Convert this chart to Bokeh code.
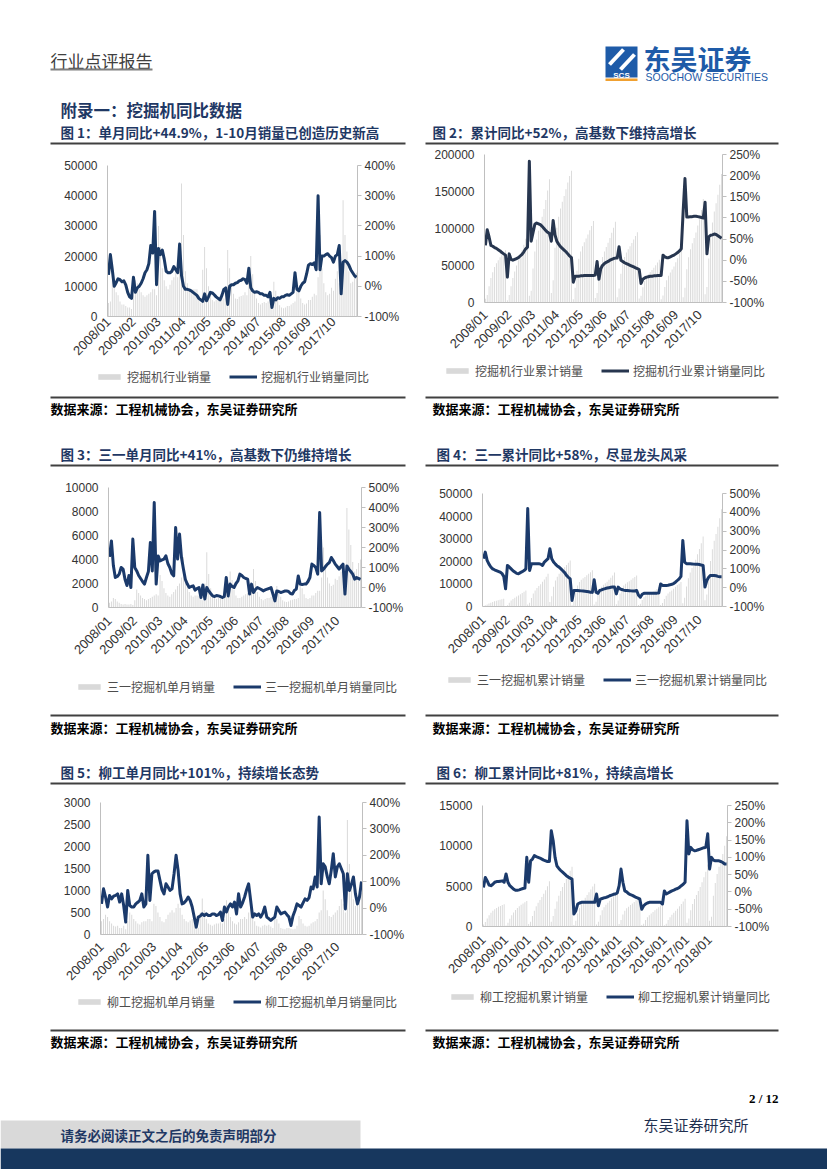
import math
from bokeh.plotting import figure
from bokeh.models import (Range1d, LinearAxis, FixedTicker, PrintfTickFormatter,
                          NumeralTickFormatter, Legend, LegendItem)
from bokeh.layouts import column, row
from bokeh.embed import file_html
from bokeh.resources import INLINE
from bokeh.core.properties import value

CJK = "Noto Sans CJK SC"
NUM = "Liberation Sans"
NAVY = "#1f3864"

# ---------------- tick labels ----------------
ticks_a = [0, 13, 26, 39, 52, 65, 78, 91, 104, 117]
labels_a = ["2008/01", "2009/02", "2010/03", "2011/04", "2012/05", "2013/06",
            "2014/07", "2015/08", "2016/09", "2017/10"]
ticks_b = [0, 12, 24, 36, 48, 60, 72, 84, 96, 108, 120]
labels_b = ["2008/01", "2009/01", "2010/01", "2011/01", "2012/01", "2013/01",
            "2014/01", "2015/01", "2016/01", "2017/01", "2018/01"]

# ---------------- data: 2008/01 .. 2018/10 ----------------
# Fig 1: industry monthly sales / YoY (%)
ind_month = [
    4500, 5000, 12000, 11000, 8000, 7000, 5000, 4000, 4000, 3500, 3000, 3000,
    2500, 7000, 12000, 11000, 9000, 8000, 7000, 6500, 7000, 7500, 8000, 9000,
    9000, 7000, 30000, 23000, 16000, 12000, 10000, 9000, 10500, 12000, 13000, 15000,
    13000, 17000, 44000, 27000, 15000, 11000, 9000, 8000, 9000, 9000, 9000, 7000,
    4500, 15500, 23000, 16000, 10000, 7000, 5500, 5000, 5500, 5500, 6000, 6500,
    6000, 7000, 22000, 16000, 10500, 7500, 6000, 5800, 6500, 6800, 7000, 8000,
    7000, 12000, 20000, 14000, 8500, 6000, 4500, 4000, 4500, 4800, 4500, 5000,
    5500, 3500, 11500, 8500, 5500, 3700, 3000, 2700, 3000, 3500, 3500, 4000,
    4500, 5000, 11500, 9000, 6000, 4500, 4000, 4300, 5500, 5500, 6500, 7500,
    7000, 13000, 27000, 16000, 11000, 8000, 7000, 7500, 9500, 8500, 12500, 15000,
    11000, 10000, 38500, 27000, 21500, 15000, 11000, 11500, 13500, 14500]
ind_month_yoy = [
    38, 105, 55, 0, 12, 25, 22, 15, 18, 5, -20, -35,
    -40, 30, -20, -5, 0, 10, 25, 45, 55, 75, 135, 110,
    248, 5, 125, 105, 120, 90, 50, 45, 45, 50, 65, 55,
    45, 140, 35, 0, -10, -10, -12, -15, -20, -25, -30, -40,
    -45, -50, -25, -48, -35, -20, -22, -28, -35, -40, -45, -30,
    -10, -5, -60, 0, 5, 5, 10, 12, 18, 20, 25, 22,
    10, 60, -5, -15, -20, -18, -20, -25, -25, -30, -30, -35,
    -20, -70, -40, -45, -38, -40, -35, -35, -30, -28, -30, -25,
    -20, 45, -10, -15, 0, 10, 15, 40, 70, 75, 72, 78,
    55, 300, 55, 100, 100, 105, 108, 100, 95, 80, 100, 105,
    135, -25, 80, 85, 80, 70, 55, 45, 35, 30]

# Fig 2: industry cumulative sales / cumulative YoY (%)
ind_cum = [
    5000, 10000, 22000, 33000, 41000, 48000, 53000, 57000, 61000, 64500, 67500, 70500,
    3000, 10000, 22000, 33000, 42000, 50000, 57000, 63500, 70500, 78000, 86000, 95000,
    9000, 16000, 46000, 69000, 85000, 97000, 107000, 116000, 126500, 138500, 151500, 166500,
    13000, 30000, 74000, 101000, 116000, 127000, 136000, 144000, 153000, 162000, 171000, 178000,
    4500, 20000, 43000, 59000, 69000, 76000, 81500, 86500, 92000, 97500, 103500, 110000,
    6000, 13000, 35000, 51000, 61500, 69000, 75000, 80800, 87300, 94100, 101100, 109000,
    7000, 19000, 39000, 53000, 61500, 67500, 72000, 76000, 80500, 85300, 89800, 94800,
    5500, 9000, 20500, 29000, 34500, 38200, 41200, 43900, 46900, 50400, 53900, 57900,
    4500, 9500, 21000, 30000, 36000, 40500, 44500, 48800, 54300, 59800, 66300, 73800,
    7000, 20000, 45000, 61000, 72000, 80000, 87000, 94500, 104000, 112500, 125000, 140000,
    11000, 21000, 59500, 86500, 108000, 123000, 134000, 145500, 159000, 173500]
ind_cum_yoy = [
    35, 72, 55, 35, 33, 30, 28, 25, 22, 18, 15, 12,
    -40, 15, 2, 0, 2, 4, 6, 10, 14, 20, 27, 31,
    234, 45, 65, 85, 88, 86, 84, 80, 75, 70, 66, 63,
    45, 94, 60, 45, 38, 32, 28, 24, 20, 15, 10, 6,
    -52, -38, -38, -38, -37, -37, -36, -36, -36, -36, -36, -36,
    -35, -3, -45, -20, -12, -8, -5, -3, 0, 2, 4, 5,
    5, 32, 0, -3, -6, -8, -10, -12, -14, -16, -18, -20,
    -22, -55, -45, -42, -40, -39, -38, -38, -37, -37, -36, -36,
    -36, 12, 8, 6, 6, 8, 10, 12, 15, 18, 22, 27,
    115, 193, 102, 102, 103, 103, 104, 104, 103, 102, 101, 100,
    137, 15, 55, 59, 60, 62, 61, 58, 55, 52]

# Fig 3: Sany monthly sales / YoY (%)
sany_month = [
    400, 500, 800, 700, 500, 400, 300, 250, 300, 250, 250, 300,
    200, 600, 1500, 1200, 1000, 800, 700, 600, 700, 800, 900, 1000,
    1100, 1000, 2700, 2200, 1600, 1200, 1000, 900, 1100, 1300, 1500, 1800,
    2000, 2500, 4200, 2800, 1700, 1300, 1000, 900, 1000, 1000, 1000, 900,
    600, 2000, 4600, 2800, 1600, 1000, 800, 700, 800, 800, 900, 1000,
    900, 1200, 3000, 2300, 1500, 1000, 800, 800, 900, 1000, 1100, 1200,
    1000, 1600, 3200, 2200, 1300, 900, 700, 600, 700, 800, 800, 900,
    800, 600, 1800, 1300, 900, 600, 500, 450, 500, 600, 650, 700,
    700, 800, 1900, 1600, 1100, 800, 700, 800, 1000, 1000, 1200, 1400,
    1400, 2500, 5000, 3600, 2500, 2000, 1800, 1900, 2400, 2300, 2600, 3000,
    2800, 2500, 8300, 6500, 5200, 3800, 3000, 3200, 3700, 4000]
sany_month_yoy = [
    153, 233, 110, 50, 55, 67, 100, 92, 40, 10, 60, 0,
    242, 100, 83, 60, 45, 30, 17, 50, 80, 225, 83, 425,
    17, 158, 133, 138, 142, 158, 120, 100, 70, 58, 300, 142,
    267, 150, 92, 40, 17, 0, 5, 8, -13, -5, 0, -50,
    13, -58, 0, -17, -30, -42, -45, -40, -42, -45, -50, -45,
    50, -42, 17, 5, 0, 20, 33, 67, 60, 50, 45, 42,
    -33, 17, -25, -10, 0, -5, -10, -17, -12, -8, -5, 0,
    -33, -67, -17, -20, -25, -22, -18, -17, -20, -30, -33, -15,
    -8, 58, 17, 15, 17, 17, 30, 50, 117, 110, 100, 67,
    375, 83, 92, 105, 117, 125, 150, 135, 117, 105, 92, 105,
    117, -33, 108, 92, 80, 67, 42, 50, 45, 41]

# Fig 4: Sany cumulative sales / cumulative YoY (%)
sany_cum = [
    250, 500, 900, 1300, 1700, 2000, 2300, 2550, 2800, 3000, 3200, 3400,
    150, 600, 1700, 2600, 3300, 3900, 4400, 4900, 5400, 6000, 6500, 7100,
    900, 1700, 3800, 5700, 7100, 8200, 9100, 9900, 10900, 12000, 13200, 14500,
    2000, 4500, 8700, 11500, 13200, 14500, 15500, 16400, 17400, 18400, 19400, 20400,
    600, 2500, 6800, 9300, 10800, 11800, 12500, 13100, 13800, 14500, 15200, 16000,
    900, 2100, 5100, 7300, 8700, 9600, 10300, 11000, 11800, 12700, 13700, 15000,
    1000, 2600, 5800, 8000, 9300, 10100, 10700, 11200, 11800, 12500, 13100, 13700,
    700, 1200, 2900, 4100, 4900, 5400, 5800, 6200, 6600, 7100, 7700, 8600,
    700, 1500, 3300, 4800, 5800, 6500, 7100, 7800, 8700, 9500, 10100, 10800,
    1400, 3900, 8900, 12500, 15000, 17000, 18800, 20700, 23100, 25400, 28000, 31000,
    2800, 5300, 13600, 20100, 25300, 29100, 32100, 35300, 39000, 43000]
sany_cum_yoy = [
    154, 189, 145, 125, 110, 100, 95, 91, 87, 83, 76, 60,
    -6, 118, 110, 100, 90, 83, 76, 74, 80, 85, 91, 100,
    420, 91, 127, 127, 127, 127, 127, 125, 118, 136, 145, 154,
    207, 154, 136, 125, 115, 109, 100, 90, 80, 65, 55, 47,
    -68, -15, -15, -15, -16, -17, -18, -19, -20, -22, -24, -25,
    42, -24, -30, -15, -12, -8, -5, -2, 0, 2, 3, 3,
    -33, 3, -6, -10, -13, -15, -15, -16, -17, -18, -18, -15,
    -40, -50, -35, -30, -29, -29, -29, -29, -29, -29, -29, -28,
    20, 12, 12, 12, 13, 15, 18, 22, 29, 38, 47, 60,
    251, 136, 127, 127, 127, 126, 125, 124, 124, 123, 120, 118,
    3, 38, 55, 65, 65, 65, 63, 60, 58, 58]

# Fig 5: Liugong monthly sales / YoY (%)
liugong_month = [
    300, 350, 450, 400, 300, 250, 200, 180, 200, 150, 150, 200,
    120, 300, 500, 450, 350, 300, 250, 230, 280, 300, 300, 350,
    350, 300, 700, 650, 500, 400, 300, 280, 350, 450, 500, 550,
    500, 600, 700, 600, 450, 350, 300, 280, 320, 350, 350, 300,
    150, 500, 820, 550, 350, 250, 220, 200, 230, 250, 250, 280,
    250, 350, 780, 600, 400, 300, 250, 230, 280, 350, 350, 400,
    350, 500, 700, 450, 300, 200, 180, 160, 200, 220, 200, 220,
    180, 150, 450, 350, 250, 150, 130, 120, 150, 150, 130, 120,
    130, 200, 420, 350, 250, 200, 180, 200, 250, 280, 300, 350,
    500, 550, 1000, 800, 550, 420, 400, 450, 500, 550, 650, 800,
    700, 500, 2600, 1600, 1100, 800, 650, 700, 850, 950]
liugong_month_yoy = [
    16, 73, 42, 4, 48, 35, 45, 48, 54, 23, 54, 10,
    -53, 67, 10, 4, 4, 16, 22, 29, 54, 4, 16, 200,
    29, 130, 137, 141, 141, 105, 70, 54, 92, 80, 67, 73,
    130, 200, 143, 54, 16, 20, 29, 42, 29, 4, -34, -72,
    -34, -30, -22, -28, -22, -28, -28, -22, -22, -28, -25, -15,
    -47, 4, -15, 5, 16, 4, 23, -22, 54, 4, 20, 42,
    70, 92, 29, -34, -22, -28, -22, -34, -20, 4, -34, -40,
    -47, -40, -34, 4, -9, -22, -18, -15, -25, -34, -66, -30,
    -9, 16, 10, 4, 20, 35, 29, 40, 80, 73, 118, 80,
    345, 92, 168, 156, 120, 92, 143, 206, 118, 156, 168, 149,
    130, -3, 130, 67, 90, 118, 54, 16, 42, 101]

# Fig 6: Liugong cumulative sales / cumulative YoY (%)
liugong_cum = [
    250, 550, 1000, 1400, 1700, 1950, 2150, 2300, 2450, 2550, 2650, 2750,
    120, 450, 950, 1400, 1750, 2050, 2300, 2500, 2700, 2850, 3000, 3150,
    300, 600, 1300, 1950, 2500, 2950, 3300, 3650, 4050, 4500, 5000, 5600,
    600, 1300, 2200, 3100, 3800, 4400, 4900, 5400, 5900, 6400, 6900, 7400,
    200, 700, 1600, 2300, 2800, 3200, 3550, 3900, 4250, 4600, 4950, 5300,
    250, 600, 1400, 2000, 2400, 2700, 2950, 3200, 3500, 3800, 4100, 4400,
    300, 800, 1500, 1950, 2250, 2450, 2650, 2850, 3050, 3250, 3450, 3650,
    180, 350, 800, 1150, 1400, 1600, 1800, 2000, 2200, 2400, 2600, 2800,
    150, 350, 800, 1150, 1450, 1700, 1950, 2200, 2500, 2800, 3100, 3450,
    450, 1000, 2000, 2800, 3400, 3900, 4400, 4900, 5500, 6100, 6800, 7700,
    700, 1200, 3800, 5400, 6500, 7400, 8200, 9000, 10000, 11200]
liugong_cum_yoy = [
    13, 42, 32, 20, 18, 22, 28, 30, 30, 31, 32, 28,
    52, 28, 18, 13, 8, 5, 5, 6, 8, 10, 11, 100,
    28, 90, 95, 105, 102, 100, 98, 95, 92, 90, 88, 88,
    177, 148, 100, 75, 68, 62, 57, 52, 47, 43, 40, 37,
    -64, -55, -35, -32, -30, -30, -30, -30, -30, -30, -30, -30,
    -6, -40, -21, -19, -17, -16, -14, -11, -9, -7, -6, -3,
    18, 66, 28, 3, 0, -5, -8, -10, -13, -16, -18, -21,
    -50, -40, -35, -32, -30, -30, -30, -30, -30, -30, -30, -35,
    3, -6, -3, 0, 3, 5, 8, 10, 13, 18, 22, 28,
    206, 110, 129, 122, 119, 120, 122, 124, 126, 128, 129, 168,
    66, 100, 92, 90, 90, 90, 88, 85, 81, 81]

TXT = "#333333"
AXC = "#bfbfbf"
BARC = "#d9d9d9"


def no_align(p):
    try:
        p.frame_align = False
    except Exception:
        pass


def chart(w, h, bl, br, bt, bb, bars, yoy, ymax, ystep, rmin, rmax, rstep,
          xt, xl, lcolor, xstand):
    n = len(bars)
    p = figure(width=w, height=h, output_backend="svg", toolbar_location=None,
               title=None, x_range=Range1d(-0.5, n - 0.5), y_range=Range1d(0, ymax),
               min_border_left=bl, min_border_right=br, min_border_top=bt,
               min_border_bottom=bb)
    no_align(p)
    p.outline_line_color = None
    p.xgrid.visible = False
    p.ygrid.visible = False
    p.extra_y_ranges = {"r": Range1d(rmin, rmax)}
    xs = list(range(n))
    p.vbar(x=xs, top=bars, width=0.5, fill_color=BARC, line_color=None)
    p.line(x=xs, y=yoy, y_range_name="r", line_color=lcolor, line_width=3,
           line_join="round")

    ya = p.yaxis[0]
    ya.ticker = FixedTicker(ticks=list(range(0, ymax + 1, ystep)))
    ya.formatter = NumeralTickFormatter(format="0")
    ya.major_tick_line_color = None
    ya.major_tick_out = 0
    ya.major_label_standoff = 10

    ra = LinearAxis(y_range_name="r",
                    ticker=FixedTicker(ticks=list(range(rmin, rmax + 1, rstep))),
                    formatter=PrintfTickFormatter(format="%d%%"))
    ra.major_tick_line_color = AXC
    ra.major_tick_out = 4
    ra.major_tick_in = 0
    ra.major_label_standoff = 3
    p.add_layout(ra, "right")

    xa = p.xaxis[0]
    xa.ticker = FixedTicker(ticks=xt)
    xa.major_label_overrides = dict(zip(xt, xl))
    xa.major_label_orientation = math.pi / 4
    xa.major_tick_line_color = None
    xa.major_tick_out = 0
    xa.major_label_standoff = xstand

    for ax in (xa, ya, ra):
        ax.axis_line_color = AXC
        ax.minor_tick_line_color = None
        ax.major_label_text_font = NUM
        ax.major_label_text_font_size = "12px"
        ax.major_label_text_color = TXT
    xa.major_label_text_font_size = "13px"
    return p


def legend_strip(w, h, lx, bar_name, line_name, lcolor):
    # legend-only figure placed under a chart; the proxy glyphs sit outside the view
    s = figure(width=w, height=h, output_backend="svg", toolbar_location=None,
               title=None, x_range=Range1d(0, 1), y_range=Range1d(0, 1),
               x_axis_location=None, y_axis_location=None, min_border=0)
    no_align(s)
    s.xgrid.visible = False
    s.ygrid.visible = False
    s.outline_line_color = None
    rb = s.vbar(x=[-10], top=[-5], width=0.5, fill_color=BARC, line_color=None)
    rl = s.line(x=[-10, -9], y=[-5, -5], line_color=lcolor, line_width=3)
    leg = Legend(items=[LegendItem(label=bar_name, renderers=[rb]),
                        LegendItem(label=line_name, renderers=[rl])],
                 orientation="horizontal", location=(lx, h - 19),
                 background_fill_alpha=0, border_line_color=None,
                 label_text_font=CJK, label_text_font_size="12px",
                 label_text_color="#4d4d4d", glyph_width=28, glyph_height=7,
                 label_height=14, spacing=18, padding=0, margin=0, label_standoff=4)
    s.add_layout(leg)
    return s


def panel(y_top, y_bot):
    p = figure(width=827, height=y_bot - y_top, output_backend="svg",
               toolbar_location=None, title=None,
               x_range=Range1d(0, 827), y_range=Range1d(y_bot, y_top),
               x_axis_location=None, y_axis_location=None, min_border=0)
    no_align(p)
    p.xgrid.visible = False
    p.ygrid.visible = False
    p.outline_line_color = None
    return p


def put(p, x, y, s, size, color="#000000", bold=False, font=CJK, align="left"):
    p.text(x=[x], y=[y], text=[s], text_font=value(font), text_font_size=size,
           text_font_style="bold" if bold else "normal", text_color=color,
           text_baseline="middle", text_align=align)


def rules(p, y):
    p.segment(x0=[50, 425], y0=[y, y], x1=[405, 778], y1=[y, y],
              line_color="#404040", line_width=2)


SRC = "数据来源：工程机械协会，东吴证券研究所"
TS = "13.5px"
LOGO = "#1e5ba8"

# ---------------- header ----------------
hd = panel(0, 146)
put(hd, 50, 60, "行业点评报告", "17px", "#404040")
hd.segment(x0=[50], y0=[69], x1=[152], y1=[69], line_color="#7f7f7f", line_width=2)
hd.quad(left=[605], right=[637], top=[46], bottom=[77], fill_color=LOGO,
        line_color=None)
hd.segment(x0=[609, 620], y0=[64, 69], x1=[623, 634], y1=[49, 54],
           line_color="white", line_width=4)
put(hd, 621, 74.5, "SCS", "8px", "white", True, NUM, "center")
hd.quad(left=[605], right=[637], top=[78], bottom=[80.5], fill_color="#f0a030",
        line_color=None)
put(hd, 643, 58, "东吴证券", "27px", LOGO, True)
put(hd, 645, 76, "SOOCHOW SECURITIES", "10.5px", LOGO, False, NUM)
put(hd, 60, 109, "附录一：挖掘机同比数据", "16.5px", NAVY, True)
put(hd, 60, 131, "图 1：单月同比+44.9%，1-10月销量已创造历史新高", TS, NAVY, True)
put(hd, 432, 131, "图 2：累计同比+52%，高基数下维持高增长", TS, NAVY, True)
rules(hd, 143)

# ---------------- charts row 1 (y 146..392) ----------------
c1 = chart(415, 220, 107, 58, 19, 47, ind_month, ind_month_yoy, 50000, 10000,
           -100, 400, 100, ticks_a, labels_a, "#1b3a66", 3)
l1 = legend_strip(415, 26, 95, "挖掘机行业销量", "挖掘机行业销量同比", "#1b3a66")
c2 = chart(412, 214, 69, 105, 8, 58, ind_cum, ind_cum_yoy, 200000, 50000,
           -100, 250, 50, ticks_a, labels_a, "#27364f", 10)
l2 = legend_strip(412, 32, 28, "挖掘机行业累计销量", "挖掘机行业累计销量同比", "#27364f")

# ---------------- middle band 1 ----------------
m1 = panel(392, 468)
rules(m1, 397)
put(m1, 50, 408, SRC, "13px", "#000000", True)
put(m1, 432, 408, SRC, "13px", "#000000", True)
put(m1, 60, 453, "图 3：三一单月同比+41%，高基数下仍维持增长", TS, NAVY, True)
put(m1, 436, 453, "图 4：三一累计同比+58%，尽显龙头风采", TS, NAVY, True)
rules(m1, 465)

# ---------------- charts row 2 (y 468..712) ----------------
c3 = chart(415, 208, 108, 54, 19, 69, sany_month, sany_month_yoy, 10000, 2000,
           -100, 500, 100, ticks_a, labels_a, "#1b3a6b", 11)
l3 = legend_strip(415, 36, 75, "三一挖掘机单月销量", "三一挖掘机单月销量同比", "#1b3a6b")
c4 = chart(412, 201, 67, 105, 25, 63, sany_cum, sany_cum_yoy, 50000, 10000,
           -100, 500, 100, ticks_a, labels_a, "#1b3a6b", 11)
l4 = legend_strip(412, 43, 30, "三一挖掘机累计销量", "三一挖掘机累计销量同比", "#1b3a6b")

# ---------------- middle band 2 ----------------
m2 = panel(712, 786)
rules(m2, 715)
put(m2, 50, 727, SRC, "13px", "#000000", True)
put(m2, 432, 727, SRC, "13px", "#000000", True)
put(m2, 60, 771, "图 5：柳工单月同比+101%，持续增长态势", TS, NAVY, True)
put(m2, 436, 771, "图 6：柳工累计同比+81%，持续高增长", TS, NAVY, True)
rules(m2, 783)

# ---------------- charts row 3 (y 786..1027) ----------------
c5 = chart(415, 205, 100, 53, 16, 57, liugong_month, liugong_month_yoy, 3000, 500,
           -100, 400, 100, ticks_a, labels_a, "#1b3a6b", 10)
l5 = legend_strip(415, 36, 75, "柳工挖掘机单月销量", "柳工挖掘机单月销量同比", "#1b3a6b")
c6 = chart(412, 200, 67, 100, 19, 60, liugong_cum, liugong_cum_yoy, 15000, 5000,
           -100, 250, 50, ticks_b, labels_b, "#1b3a6b", 11)
l6 = legend_strip(412, 41, 33, "柳工挖掘机累计销量", "柳工挖掘机累计销量同比", "#1b3a6b")

# ---------------- footer ----------------
ft = panel(1027, 1169)
rules(ft, 1030)
put(ft, 50, 1041, SRC, "13px", "#000000", True)
put(ft, 432, 1041, SRC, "13px", "#000000", True)
put(ft, 778, 1098, "2 / 12", "13px", "#000000", True, "Liberation Serif", "right")
put(ft, 748, 1124, "东吴证券研究所", "15px", "#1f2f4f", False, CJK, "right")
ft.quad(left=[0], right=[360], top=[1120], bottom=[1148], fill_color="#d9d9d9",
        line_color=None)
put(ft, 60, 1134, "请务必阅读正文之后的免责声明部分", "13.5px", NAVY, True)
ft.quad(left=[0], right=[827], top=[1148], bottom=[1169], fill_color="#17375e",
        line_color=None)

page = column(hd,
              row(column(c1, l1), column(c2, l2)),
              m1,
              row(column(c3, l3), column(c4, l4)),
              m2,
              row(column(c5, l5), column(c6, l6)),
              ft)

open("out.html", "w").write(file_html(page, INLINE))
